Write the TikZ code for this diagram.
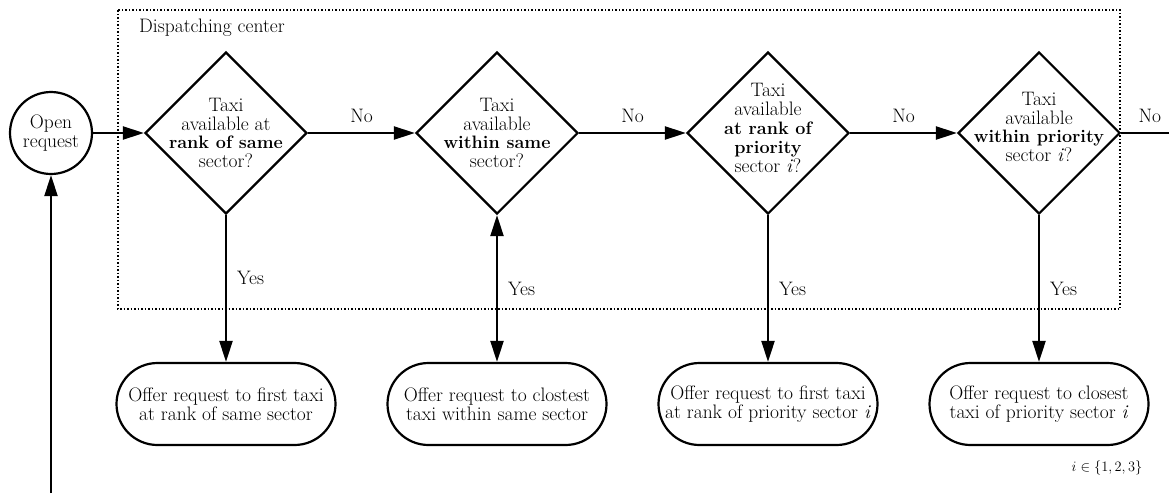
\documentclass[tikz,border=0pt]{standalone}
\usepackage{fontspec}
\usetikzlibrary{arrows.meta,shapes.geometric,shapes.misc}
\newcommand\bfx[1]{{\fontsize{18}{18.8}\selectfont\bfseries #1}}
\begin{document}
\begin{tikzpicture}[x=1pt,y=-1pt,
  every node/.style={font=\fontsize{19.5}{18.8}\selectfont},
  tip/.tip={Triangle[length=21pt,width=13pt]},
  conn/.style={line width=2.2pt,-tip},
  conntwo/.style={line width=2.2pt,tip-tip},
  plain/.style={line width=2.2pt},
  dia/.style={diamond,draw,line width=2.2pt,minimum width=162pt,minimum height=162pt,inner sep=0pt},
  term/.style={rounded rectangle,draw,line width=2.2pt,minimum width=219pt,minimum height=82pt,inner sep=0pt,align=center},
  txt/.style={align=center,inner sep=0pt},
  lbl/.style={inner sep=0pt}]
\useasboundingbox (0,0) rectangle (1169,493);
% dispatching center frame
\draw[dotted,line width=1.5pt] (118,10) rectangle (1120,309);
\node[anchor=base west,inner sep=0pt] (dc) at (139,32) {Dispatching center};
% start
\node[circle,draw,line width=2.2pt,minimum size=82pt,inner sep=0pt,align=center] (open) at (51,133) {Open\\request};
% decisions
\node[dia] (d1) at (226,133) {};
\node[txt] (d1t) at (226,133) {Taxi\\available at\\\bfx{rank of same}\\sector?};
\node[dia] (d2) at (497,133) {};
\node[txt] (d2t) at (497,133) {Taxi\\available\\\bfx{within same}\\sector?};
\node[dia] (d3) at (768,133) {};
\node[txt] (d3t) at (768,128) {Taxi\\available\\\bfx{at rank of}\\\bfx{priority}\\sector \textit{i}?};
\node[dia] (d4) at (1039,133) {};
\node[txt] (d4t) at (1039,127) {Taxi\\available\\\bfx{within priority}\\sector \textit{i}?};
% terminals
\node[term] (t1) at (226,404) {Offer request to first taxi\\at rank of same sector};
\node[term] (t2) at (497,404) {Offer request to clostest\\taxi within same sector};
\node[term] (t3) at (768,404) {Offer request to first taxi\\at rank of priority sector \textit{i}};
\node[term] (t4) at (1039,404) {Offer request to closest\\taxi of priority sector \textit{i}};
% coordinates
\coordinate (src) at (51,493);
\coordinate (exit) at (1169,133);
% connectors
\draw[conn] (src) -- (open);
\draw[conn] (open) -- (d1);
\draw[conn] (d1) -- node[lbl,midway,above=9pt] {No} (d2);
\draw[conn] (d2) -- node[lbl,midway,above=9pt] {No} (d3);
\draw[conn] (d3) -- node[lbl,midway,above=9pt] {No} (d4);
\draw[plain] (d4.east) -- node[lbl,pos=0.6,above=9pt] {No} (exit);
\draw[conn] (d1.south) -- node[lbl,pos=0.43,right=10pt] {Yes} (t1.north);
\draw[conntwo] (d2.south) -- node[lbl,pos=0.5,right=10pt] {Yes} (t2.north);
\draw[conn] (d3.south) -- node[lbl,pos=0.5,right=10pt] {Yes} (t3.north);
\draw[conn] (d4.south) -- node[lbl,pos=0.5,right=10pt] {Yes} (t4.north);
% note
\node[lbl,font=\fontsize{14}{16}\selectfont] (iset) at (1107,468) {$i\in\{1,2,3\}$};
\end{tikzpicture}
\end{document}
